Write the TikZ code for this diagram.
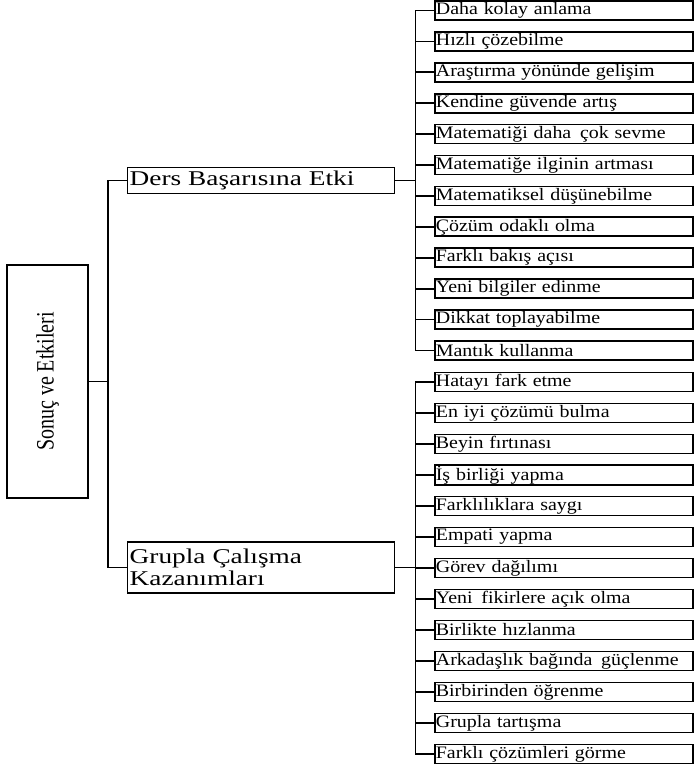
\documentclass[tikz,border=0pt]{standalone}
\usepackage{fontspec}
\setmainfont{Liberation Serif}
\newfontfamily\leaffont[FakeStretch=1.14]{Liberation Serif}
\newfontfamily\branchfont[FakeStretch=1.3]{Liberation Serif}
\newfontfamily\rootfont[FakeStretch=0.8]{Liberation Serif}
\usetikzlibrary{positioning}

\begin{document}
\begin{tikzpicture}[x=1pt, y=-1pt,
    conn/.style={line width=1.8pt},
    leaf/.style={draw, line width=1.7pt, anchor=west, inner sep=1pt,
      text width=256pt, minimum height=19pt, align=left,
      font=\leaffont\fontsize{17.5}{19}\selectfont},
    branch/.style={draw, line width=1.4pt, anchor=west, inner sep=2pt,
      align=left, font=\branchfont\fontsize{21}{21.5}\selectfont},
    rootbox/.style={draw, line width=1.4pt, minimum width=81pt,
      minimum height=233pt, inner sep=0pt}]

    \useasboundingbox (0,0) rectangle (694,766);

    % --- ana kutu ---
    \node[rootbox] (root) at (47.5,381.5)
      {\rotatebox{90}{\rootfont\fontsize{25}{28}\selectfont Sonuç ve Etkileri}};

    % --- iki dal ---
    \node[branch, text width=263pt, minimum height=26pt] (ders) at (127,180.5)
      {Ders Başarısına Etki};
    \node[branch, text width=263pt, minimum height=51pt] (grupla) at (127,567.5)
      {Grupla Çalışma\\Kazanımları};

    \draw[conn] (root.east) -- ++(19,0) |- (ders.west);
    \draw[conn] (root.east) -- ++(19,0) |- (grupla.west);

    % --- ders basarisi yapraklari ---
    \foreach \txt [count=\i] in {Daha kolay anlama, Hızlı çözebilme,
        Araştırma yönünde gelişim, Kendine güvende artış,
        Matematiği daha\, çok sevme, Matematiğe ilginin artması,
        Matematiksel düşünebilme, Çözüm odaklı olma, Farklı bakış açısı,
        Yeni bilgiler edinme, Dikkat toplayabilme, Mantık kullanma} {
      \node[leaf] (d\i) at (434,{10.5+30.9*(\i-1)}) {\txt};
      \draw[conn] (ders.east) -- ++(20,0) |- (d\i.west);
    }

    % --- grup calismasi yapraklari ---
    \foreach \txt [count=\i] in {Hatayı fark etme, En iyi çözümü bulma,
        Beyin fırtınası, İş birliği yapma, Farklılıklara saygı, Empati yapma,
        Görev dağılımı, Yeni\, fikirlere açık olma, Birlikte hızlanma,
        Arkadaşlık bağında\, güçlenme, Birbirinden öğrenme, Grupla tartışma,
        Farklı çözümleri görme} {
      \node[leaf] (g\i) at (434,{382+31*(\i-1)}) {\txt};
      \draw[conn] (grupla.east) -- ++(20,0) |- (g\i.west);
    }

\end{tikzpicture}
\end{document}
